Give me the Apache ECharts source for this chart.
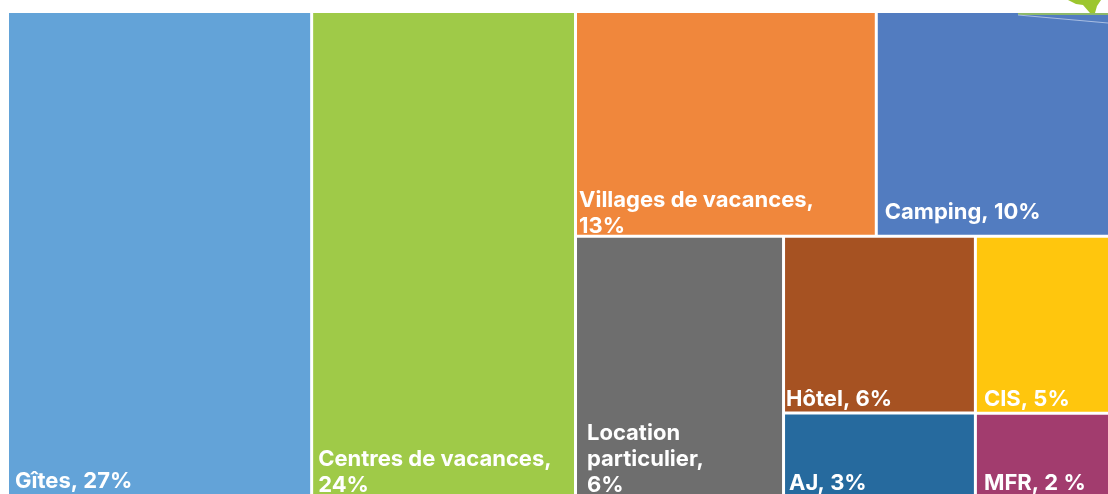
<!DOCTYPE html>
<html><head><meta charset="utf-8">
<style>html,body{margin:0;padding:0;background:#fff}#c{width:1108px;height:494px}</style>
<script src="https://cdn.jsdelivr.net/npm/echarts@6/dist/echarts.min.js"></script>
</head><body><div id="c"></div>
<script>
// Category names and the percentages printed on the chart
const names = ['Gîtes','Centres de vacances','Villages de vacances','Camping','Location particulier','Hôtel','CIS','AJ','MFR'];
const printed = ['27%','24%','13%','10%','6%','6%','5%','3%','2 %'];
// Tile sizes (share of the area)
const sizes = [27.55,23.9,12.57,9.83,10.15,6.31,4.48,3.05,2.16];
const colors = ['#63A3D8','#9FCA48','#F0873C','#527CC0','#6E6E6E','#A65222','#FFC60D','#266A9E','#A23C6E'];
// Text line breaks
const breaks = [ '{n}, {p}','{n},\n{p}','{n},\n{p}','{n}, {p}','Location\nparticulier,\n{p}','{n}, {p}','{n}, {p}','{n}, {p}','{n}, {p}' ];
const insetX = [6,5,2,7,10,1,7,4,7];
const offsetY = [-3,1,5,-9,1,1,1,-1,-1];

function leaf(i){
  return {
    name:names[i], value:sizes[i],
    itemStyle:{color:colors[i]},
    label:{
      show:true, position:'insideBottomLeft', distance:0, padding:[0,0,0,insetX[i]], offset:[0,offsetY[i]],
      formatter:breaks[i].replace('{n}',names[i]).replace('{p}',printed[i]),
      color:'#fff', fontFamily:'Inter', fontWeight:700, fontSize:22, lineHeight:26, overflow:'none'
    }
  };
}
function group(kids){
  return {name:'', children:kids, value:kids.reduce((a,k)=>a+k.value,0), label:{show:false}, itemStyle:{color:'#fff'}};
}
const tree = [
  leaf(0), leaf(1),
  group([
    group([leaf(2),leaf(3)]),
    group([leaf(4), group([leaf(5),leaf(7)]), group([leaf(6),leaf(8)])])
  ])
];
const chart = echarts.init(document.getElementById('c'),null,{renderer:'canvas'});
chart.setOption({
  animation:false,
  backgroundColor:'#fff',
  series:[{
    type:'treemap', left:9, top:13, width:1101, height:484,
    roam:false, nodeClick:false, sort:false, squareRatio:1.2,
    breadcrumb:{show:false}, visibleMin:0, childrenVisibleMin:0,
    itemStyle:{gapWidth:3,borderWidth:0,borderColor:'#fff'},
    levels:[
      {itemStyle:{gapWidth:3,borderWidth:0}},
      {itemStyle:{gapWidth:3,borderWidth:0}},
      {itemStyle:{gapWidth:3,borderWidth:0}},
      {itemStyle:{gapWidth:3,borderWidth:0}},
      {itemStyle:{gapWidth:3,borderWidth:0}}
    ],
    data:tree
  }],
  graphic:[
    {type:'rect',z:100,shape:{x:1018,y:13,width:90,height:2},style:{fill:'#8DB96A'}},
    {type:'polygon',z:100,shape:{points:[[1068,0],[1076,4],[1083,5],[1090,13],[1095,13],[1097,6],[1101,0]]},style:{fill:'#9CC62E'}},
    {type:'line',z:100,shape:{x1:1018,y1:15,x2:1108,y2:23},style:{stroke:'#A9BEE2',lineWidth:1}}
  ]
});
</script></body></html>
